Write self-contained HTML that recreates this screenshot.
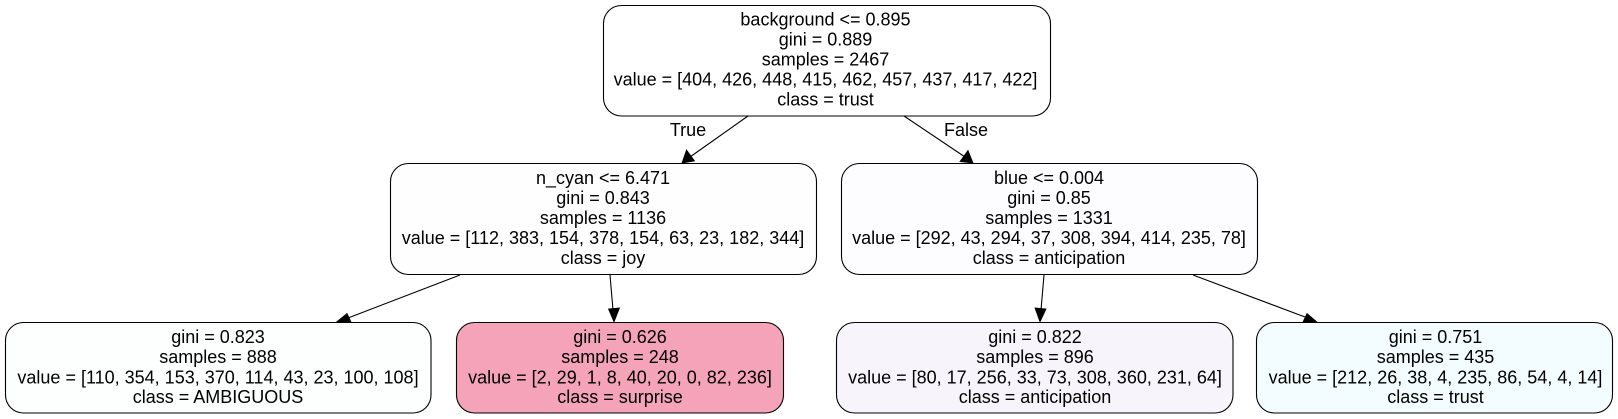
<!DOCTYPE html>
<html lang="en">
<head>
<meta charset="utf-8">
<title>Decision tree</title>
<style>
html,body{margin:0;padding:0;background:#fff;width:1618px;height:419px;overflow:hidden}
svg{display:block}
text{font-family:"Liberation Sans",Arial,sans-serif;font-size:18px;fill:#000;text-anchor:middle}
.box{stroke:#000;stroke-width:1.1}
.edge{stroke:#000;stroke-width:1.1;fill:none}
.head{fill:#000;stroke:#000;stroke-width:0.8}
</style>
</head>
<body>
<svg width="1618" height="419" viewBox="0 0 1618 419">
  <g>
    <line class="edge" x1="748" y1="116" x2="690" y2="157"/>
    <polygon class="head" points="682,163 694.5,161 686.5,150"/>
  </g>
  <g>
    <line class="edge" x1="904" y1="116" x2="965" y2="157"/>
    <polygon class="head" points="973,163 968,150.5 960,161.5"/>
  </g>
  <text x="688" y="136">True</text>
  <text x="966" y="136">False</text>
  <g>
    <line class="edge" x1="460" y1="275" x2="348" y2="318"/>
    <polygon class="head" points="336.5,322 347,313.5 351,322"/>
  </g>
  <g>
    <line class="edge" x1="610" y1="275" x2="613" y2="310"/>
    <polygon class="head" points="614,322 619.5,308 608.5,309"/>
  </g>
  <g>
    <line class="edge" x1="1044" y1="275" x2="1041" y2="310"/>
    <polygon class="head" points="1040,322 1046,309 1035,308"/>
  </g>
  <g>
    <line class="edge" x1="1193" y1="275" x2="1305" y2="317"/>
    <polygon class="head" points="1317,322 1307,313.5 1303,322"/>
  </g>

  <g>
    <rect class="box" x="603.5" y="5.5" width="447" height="110.5" rx="18" ry="18" fill="#ffffff"/>
    <text x="825.5" y="25.5">background &lt;= 0.895</text>
    <text x="825.5" y="45.5">gini = 0.889</text>
    <text x="825.5" y="65.5">samples = 2467</text>
    <text x="825.5" y="85.5">value = [404, 426, 448, 415, 462, 457, 437, 417, 422]</text>
    <text x="825.5" y="105.5">class = trust</text>
  </g>
  <g>
    <rect class="box" x="390.5" y="163.5" width="426" height="111" rx="18" ry="18" fill="#fffeff"/>
    <text x="603" y="184">n_cyan &lt;= 6.471</text>
    <text x="603" y="204">gini = 0.843</text>
    <text x="603" y="224">samples = 1136</text>
    <text x="603" y="244">value = [112, 383, 154, 378, 154, 63, 23, 182, 344]</text>
    <text x="603" y="264">class = joy</text>
  </g>
  <g>
    <rect class="box" x="841.5" y="163.5" width="416" height="111" rx="18" ry="18" fill="#fdfcff"/>
    <text x="1049" y="184">blue &lt;= 0.004</text>
    <text x="1049" y="204">gini = 0.85</text>
    <text x="1049" y="224">samples = 1331</text>
    <text x="1049" y="244">value = [292, 43, 294, 37, 308, 394, 414, 235, 78]</text>
    <text x="1049" y="264">class = anticipation</text>
  </g>
  <g>
    <rect class="box" x="5.5" y="322.5" width="425.5" height="90.5" rx="18" ry="18" fill="#fcfffe"/>
    <text x="218" y="343">gini = 0.823</text>
    <text x="218" y="363">samples = 888</text>
    <text x="218" y="383.5">value = [110, 354, 153, 370, 114, 43, 23, 100, 108]</text>
    <text x="218" y="403">class = AMBIGUOUS</text>
  </g>
  <g>
    <rect class="box" x="456.5" y="322.5" width="327" height="90.5" rx="18" ry="18" fill="#f4a3b9"/>
    <text x="620" y="343">gini = 0.626</text>
    <text x="620" y="363">samples = 248</text>
    <text x="620" y="383.5">value = [2, 29, 1, 8, 40, 20, 0, 82, 236]</text>
    <text x="620" y="403">class = surprise</text>
  </g>
  <g>
    <rect class="box" x="836.5" y="322.5" width="396.5" height="90.5" rx="18" ry="18" fill="#f7f4fc"/>
    <text x="1035" y="343">gini = 0.822</text>
    <text x="1035" y="363">samples = 896</text>
    <text x="1035" y="383.5">value = [80, 17, 256, 33, 73, 308, 360, 231, 64]</text>
    <text x="1035" y="403">class = anticipation</text>
  </g>
  <g>
    <rect class="box" x="1256.5" y="322.5" width="356" height="90.5" rx="18" ry="18" fill="#f3fcfe"/>
    <text x="1435.5" y="343">gini = 0.751</text>
    <text x="1435.5" y="363">samples = 435</text>
    <text x="1435.5" y="383.5">value = [212, 26, 38, 4, 235, 86, 54, 4, 14]</text>
    <text x="1435.5" y="403">class = trust</text>
  </g>
</svg>
</body>
</html>
